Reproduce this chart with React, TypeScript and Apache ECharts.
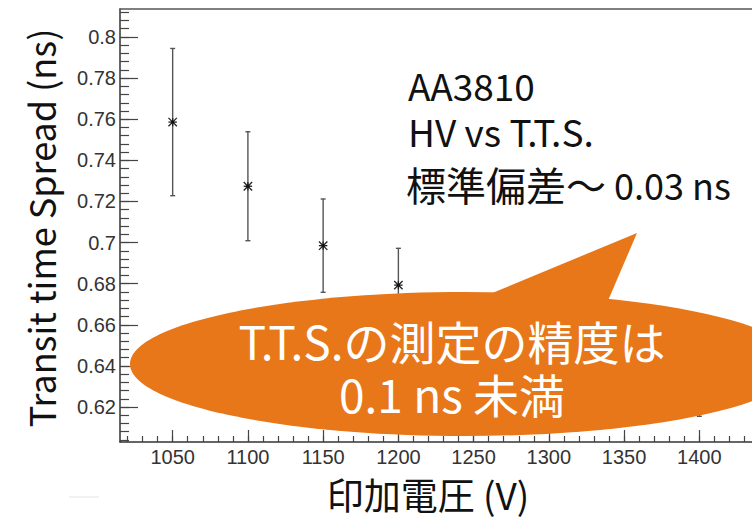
import React, { useEffect, useRef } from "react";
import * as echarts from "echarts";

// Data
const voltages = [1050, 1100, 1150, 1200, 1250, 1300, 1350, 1400];
const ttsValues = [0.7586, 0.7274, 0.6985, 0.6793, 0.655, 0.645, 0.637, 0.63];
const ttsErrors = [0.0358, 0.0265, 0.0227, 0.0179, 0.016, 0.015, 0.015, 0.0145];

// Axis ticks
const xTickValues = [1050, 1100, 1150, 1200, 1250, 1300, 1350, 1400];
const yTickValues = [0.62, 0.64, 0.66, 0.68, 0.7, 0.72, 0.74, 0.76, 0.78, 0.8];
const X_MIN = 1015;
const X_MAX = 1435;
const Y_MIN = 0.603;
const Y_MAX = 0.8136;

const xMinorTicks: number[] = [];
for (let v = 1020; v <= 1430; v += 10) xMinorTicks.push(v);
const yMinorTicks: number[] = [];
for (let i = 151; i <= 203; i++) yMinorTicks.push(Math.round(i * 4) / 1000);

// Texts
const labelLines = ["AA3810", "HV vs T.T.S."];
const stdLabelJa = "標準偏差～";
const stdLabelNum = "0.03 ns";
const bubbleLines = ["T.T.S.の測定の精度は", "0.1 ns 未満"];
const yTitle = "Transit time Spread (ns)";
const xTitle = "印加電圧 (V)";

const JP = "'Noto Sans CJK JP', 'Noto Sans', sans-serif";
const TICK_FONT = "Arial, 'Liberation Sans', sans-serif";
const ORANGE = "#E8771A";

export default function App() {
  const ref = useRef<HTMLDivElement>(null);

  useEffect(() => {
    if (!ref.current) return;
    const chart = echarts.init(ref.current, undefined, { renderer: "svg" });

    const axisLineStyle = { color: "#333", width: 1.5 };
    const tickStyle = { color: "#444", width: 1.2 };

    const option: any = {
      animation: false,
      backgroundColor: "#fff",
      grid: { left: 120, top: 9, width: 634, height: 433, containLabel: false },
      xAxis: [
        {
          type: "value",
          min: X_MIN,
          max: X_MAX,
          position: "bottom",
          axisLine: { show: true, onZero: false, lineStyle: axisLineStyle },
          axisTick: { show: true, inside: true, length: 12, customValues: xTickValues, lineStyle: tickStyle },
          axisLabel: {
            show: true,
            customValues: xTickValues,
            margin: 5,
            fontSize: 20,
            fontFamily: TICK_FONT,
            color: "#333",
            formatter: (v: number) => String(Math.round(v)),
          },
          splitLine: { show: false },
        },
        {
          type: "value",
          min: X_MIN,
          max: X_MAX,
          position: "bottom",
          axisLine: { show: false, onZero: false },
          axisTick: { show: true, inside: true, length: 6, customValues: xMinorTicks, lineStyle: tickStyle },
          axisLabel: { show: false },
          splitLine: { show: false },
        },
        {
          type: "value",
          min: X_MIN,
          max: X_MAX,
          position: "top",
          axisLine: { show: true, onZero: false, lineStyle: { color: "#555", width: 1.5 } },
          axisTick: { show: false },
          axisLabel: { show: false },
          splitLine: { show: false },
        },
      ],
      yAxis: [
        {
          type: "value",
          min: Y_MIN,
          max: Y_MAX,
          position: "left",
          axisLine: { show: true, onZero: false, lineStyle: axisLineStyle },
          axisTick: { show: true, inside: true, length: 18, customValues: yTickValues, lineStyle: tickStyle },
          axisLabel: {
            show: true,
            customValues: yTickValues,
            margin: 4,
            fontSize: 20,
            fontFamily: TICK_FONT,
            color: "#333",
            formatter: (v: number) => String(+v.toFixed(2)),
          },
          splitLine: { show: false },
        },
        {
          type: "value",
          min: Y_MIN,
          max: Y_MAX,
          position: "left",
          axisLine: { show: false, onZero: false },
          axisTick: { show: true, inside: true, length: 9, customValues: yMinorTicks, lineStyle: tickStyle },
          axisLabel: { show: false },
          splitLine: { show: false },
        },
      ],
      series: [
        {
          type: "custom",
          name: "TTS",
          xAxisIndex: 0,
          yAxisIndex: 0,
          encode: { x: 0, y: 1 },
          data: voltages.map((v, i) => [v, ttsValues[i], ttsErrors[i]]),
          renderItem: (_params: any, api: any) => {
            const x = api.value(0);
            const y = api.value(1);
            const e = api.value(2);
            const c = api.coord([x, y]);
            const t = api.coord([x, y + e]);
            const b = api.coord([x, y - e]);
            const cap = 2.5;
            const s = 4.2;
            const bar = { stroke: "#555", lineWidth: 1.4 };
            const mk = { stroke: "#222", lineWidth: 1.3 };
            return {
              type: "group",
              children: [
                { type: "line", shape: { x1: c[0], y1: t[1], x2: c[0], y2: b[1] }, style: bar },
                { type: "line", shape: { x1: c[0] - cap, y1: t[1], x2: c[0] + cap, y2: t[1] }, style: bar },
                { type: "line", shape: { x1: c[0] - cap, y1: b[1], x2: c[0] + cap, y2: b[1] }, style: bar },
                { type: "line", shape: { x1: c[0] - s, y1: c[1] - s, x2: c[0] + s, y2: c[1] + s }, style: mk },
                { type: "line", shape: { x1: c[0] - s, y1: c[1] + s, x2: c[0] + s, y2: c[1] - s }, style: mk },
                { type: "line", shape: { x1: c[0] - s, y1: c[1], x2: c[0] + s, y2: c[1] }, style: mk },
                { type: "line", shape: { x1: c[0], y1: c[1] - s, x2: c[0], y2: c[1] + s }, style: mk },
                { type: "circle", shape: { cx: c[0], cy: c[1], r: 1.6 }, style: { fill: "#111" } },
              ],
            };
          },
          z: 5,
        },
      ],
      graphic: [
        // speech bubble
        {
          type: "ellipse",
          z: 100,
          shape: { cx: 465, cy: 364, rx: 335, ry: 72 },
          style: { fill: ORANGE },
        },
        {
          type: "polygon",
          z: 100,
          shape: { points: [[485, 296], [637, 233], [604, 310]] },
          style: { fill: ORANGE },
        },
        {
          type: "text",
          z: 101,
          x: 452,
          y: 366,
          style: {
            text: bubbleLines.join("\n"),
            fontSize: 46,
            lineHeight: 53,
            fontFamily: JP,
            fill: "#fff",
            align: "center",
            verticalAlign: "middle",
          },
        },
        // annotations
        {
          type: "text",
          z: 101,
          x: 408,
          y: 108,
          style: {
            text: labelLines.join("\n"),
            fontSize: 37,
            lineHeight: 46,
            fontFamily: JP,
            fill: "#111",
            align: "left",
            verticalAlign: "middle",
          },
        },
        {
          type: "text",
          z: 101,
          x: 406,
          y: 184,
          style: {
            text: "{a|" + stdLabelJa + "}{b| " + stdLabelNum + "}",
            fill: "#111",
            align: "left",
            verticalAlign: "middle",
            rich: {
              a: { fontSize: 40, lineHeight: 44, fontFamily: JP, fill: "#111" },
              b: { fontSize: 36, lineHeight: 44, fontFamily: JP, fill: "#111" },
            },
          },
        },
        // axis titles
        {
          type: "text",
          z: 101,
          x: 40,
          y: 228,
          rotation: Math.PI / 2,
          style: { text: yTitle, fontSize: 36, lineHeight: 40, fontFamily: JP, fill: "#111", align: "center", verticalAlign: "middle" },
        },
        {
          type: "text",
          z: 101,
          x: 428,
          y: 494,
          style: { text: xTitle, fontSize: 37, lineHeight: 40, fontFamily: JP, fill: "#111", align: "center", verticalAlign: "middle" },
        },
        {
          type: "line",
          z: 1,
          shape: { x1: 69, y1: 497, x2: 99, y2: 497 },
          style: { stroke: "#e2e2e2", lineWidth: 1 },
        },
      ],
    };

    chart.setOption(option);
    return () => chart.dispose();
  }, []);

  return (
    <div
      ref={ref}
      style={{ position: "absolute", left: 0, top: 0, width: 752, height: 521, background: "#fff" }}
    />
  );
}
